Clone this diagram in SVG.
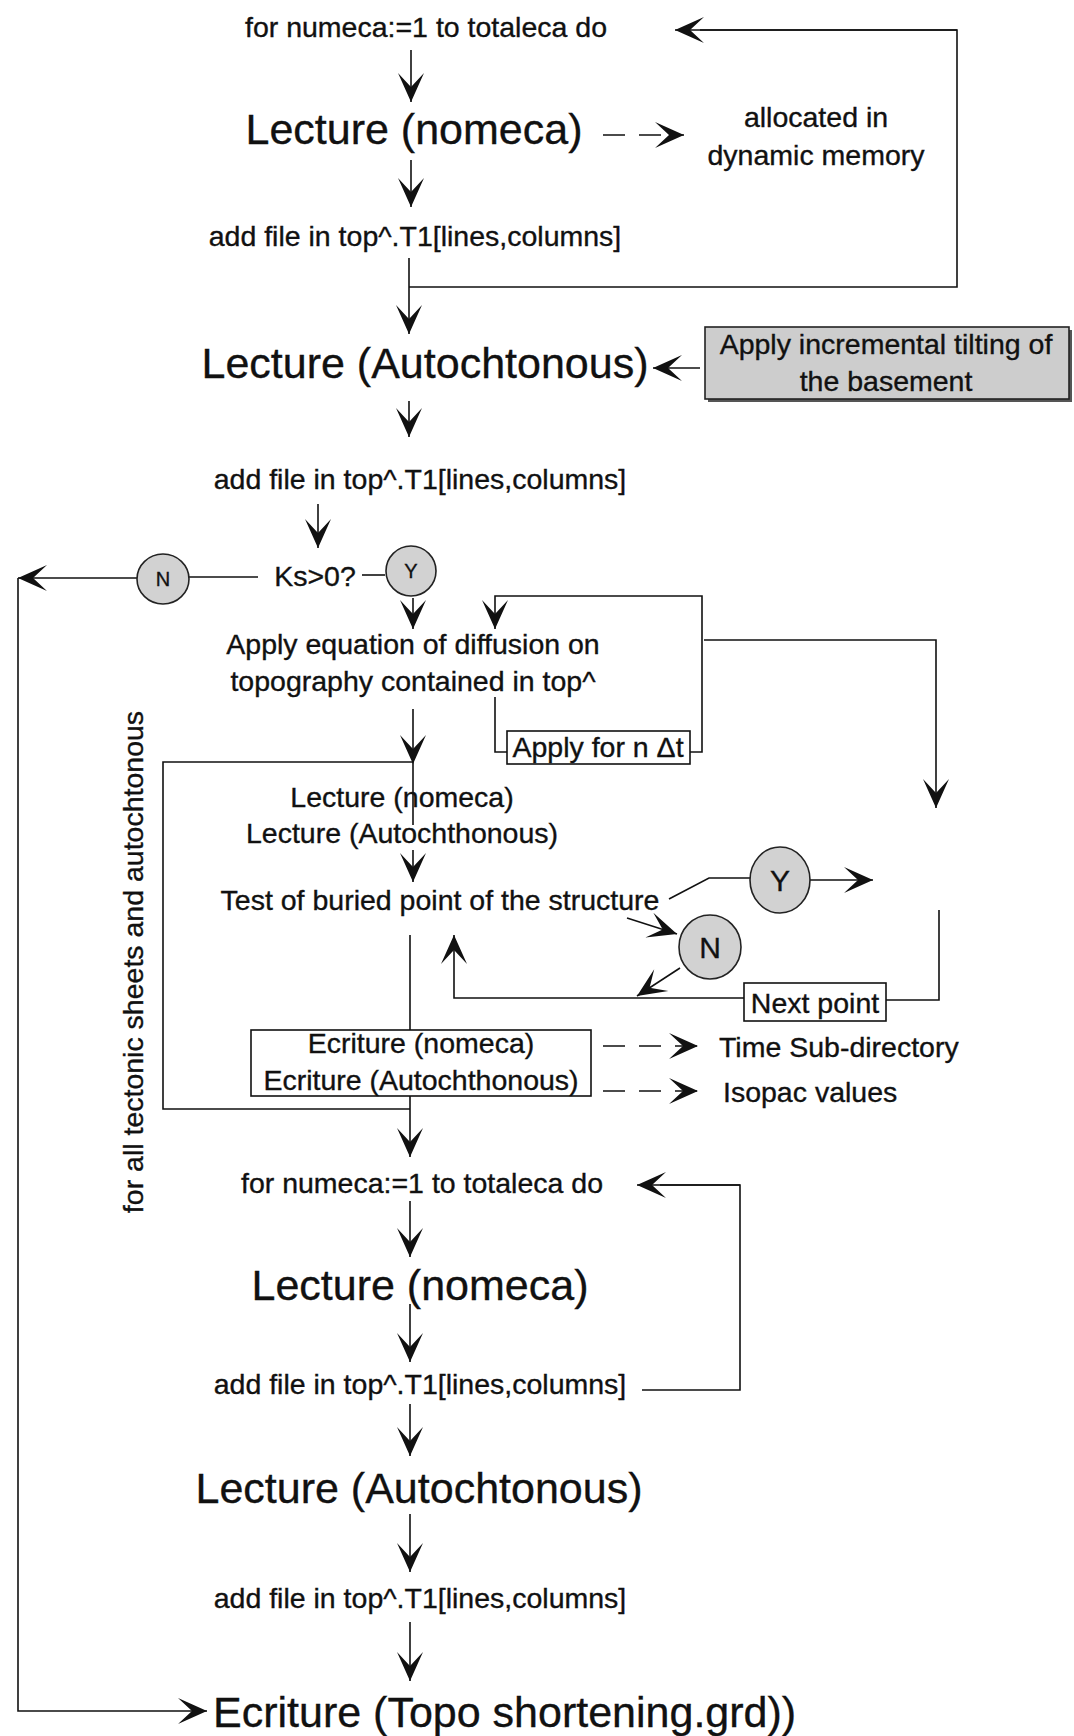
<svg xmlns="http://www.w3.org/2000/svg" width="1074" height="1736" viewBox="0 0 1074 1736">
  <style>
    text { font-family: "Liberation Sans", Arial, sans-serif; fill: #111; stroke: #111; stroke-width: 0.35; }
    .s { font-size: 28.5px; }
    .b { font-size: 43px; }
    .c { text-anchor: middle; }
    .ln { fill: none; stroke: #111; stroke-width: 1.6; }
    .ar { fill: none; stroke: #111; stroke-width: 1.6; marker-end: url(#ah); }
    .da { fill: none; stroke: #111; stroke-width: 1.6; stroke-dasharray: 22 14; marker-end: url(#ah); }
    .bub { fill: #d2d2d2; stroke: #222; stroke-width: 1.6; }
    .box { fill: #fff; stroke: #111; stroke-width: 1.6; }
  </style>
  <defs>
    <!-- chevron arrowhead, tip at the path end -->
    <marker id="ah" viewBox="-31 -15 33 30" refX="0" refY="0" markerWidth="33" markerHeight="30" markerUnits="userSpaceOnUse" orient="auto">
      <path d="M0,0 L-29,-13 L-15,0 L-29,13 Z" fill="#111"/>
    </marker>
  </defs>

  <rect width="1074" height="1736" fill="#fff"/>

  <!-- connectors -->
  <g id="connectors">
    <path class="ar" d="M411,50 V102"/>
    <path class="da" d="M603,135 H684"/>
    <path class="ar" d="M411,160 V207"/>
    <path class="ln" d="M409,287 H957 V30 H700"/>
    <path class="ar" d="M957,30 H675"/>
    <path class="ar" d="M409,258 V334"/>
    <path class="ar" d="M700,368 H653"/>
    <path class="ar" d="M409,401 V437"/>
    <path class="ar" d="M318,504 V548"/>
    <!-- Ks>0? branches -->
    <path class="ln" d="M189,577 H258"/>
    <path class="ln" d="M362,575 H385"/>
    <path class="ar" d="M137,578 H18"/>
    <path class="ar" d="M18,578 V1711 H207"/>
    <path class="ar" d="M413,598 V629"/>
    <!-- n dt loop -->
    <path class="ln" d="M495,697 V752 H507"/>
    <path class="ar" d="M690,752 H702 V596 H495 V629"/>
    <path class="ar" d="M704,640 H936 V808"/>
    <path class="ar" d="M413,709 V764"/>
    <!-- inner loop frame -->
    <path class="ln" d="M413,762 H163 V1109 H410"/>
    <path class="ln" d="M413,764 V825"/>
    <path class="ar" d="M413,850 V882"/>
    <!-- buried point test -->
    <path class="ln" d="M669,899 L709,878 H753"/>
    <path class="ar" d="M806,880 H873"/>
    <path class="ar" d="M627,918 L677,934"/>
    <path class="ar" d="M680,968 L637,996"/>
    <path class="ar" d="M744,998 H454 V935"/>
    <path class="ln" d="M886,1000 H939 V910"/>
    <path class="ln" d="M410,935 V1030"/>
    <path class="da" d="M603,1046 H698"/>
    <path class="da" d="M603,1091 H698"/>
    <path class="ar" d="M410,1096 V1157"/>
    <!-- second loop -->
    <path class="ln" d="M642,1390 H740 V1185 H660"/>
    <path class="ar" d="M740,1185 H637"/>
    <path class="ar" d="M410,1201 V1257"/>
    <path class="ar" d="M410,1304 V1362"/>
    <path class="ar" d="M410,1404 V1456"/>
    <path class="ar" d="M410,1514 V1572"/>
    <path class="ar" d="M410,1622 V1681"/>
  </g>

  <g id="n-for1"><text class="s c" x="426" y="37">for numeca:=1 to totaleca do</text></g>
  <g id="n-lect-nomeca1"><text class="b c" x="414" y="144">Lecture (nomeca)</text></g>
  <g id="n-alloc">
    <text class="s c" x="816" y="127">allocated in</text>
    <text class="s c" x="816" y="165">dynamic memory</text>
  </g>
  <g id="n-add1"><text class="s c" x="415" y="246">add file in top^.T1[lines,columns]</text></g>
  <g id="n-lect-auto1"><text class="b c" x="425" y="378">Lecture (Autochtonous)</text></g>
  <g id="n-tilt">
    <rect x="708" y="330" width="364" height="72" fill="#555"/>
    <rect x="705" y="327" width="364" height="72" fill="#cdcdcd" stroke="#222" stroke-width="1.6"/>
    <text class="s c" x="886" y="354">Apply incremental tilting of</text>
    <text class="s c" x="886" y="391">the basement</text>
  </g>
  <g id="n-add2"><text class="s c" x="420" y="489">add file in top^.T1[lines,columns]</text></g>
  <g id="n-ks"><text class="s c" x="315" y="586">Ks&gt;0?</text></g>
  <g id="n-ks-no">
    <ellipse class="bub" cx="163" cy="579" rx="26" ry="25"/>
    <text class="c" x="163" y="586" font-size="20">N</text>
  </g>
  <g id="n-ks-yes">
    <ellipse class="bub" cx="411" cy="571" rx="25" ry="25"/>
    <text class="c" x="411" y="578" font-size="20">Y</text>
  </g>
  <g id="n-diffusion">
    <text class="s c" x="413" y="654">Apply equation of diffusion on</text>
    <text class="s c" x="413" y="691">topography contained in top^</text>
  </g>
  <g id="n-ndt">
    <rect class="box" x="507" y="731" width="183" height="33"/>
    <text class="s c" x="598" y="757">Apply for n Δt</text>
  </g>
  <g id="n-lect-pair">
    <text class="s c" x="402" y="807">Lecture (nomeca)</text>
    <text class="s c" x="402" y="843">Lecture (Autochthonous)</text>
  </g>
  <g id="n-test"><text class="s c" x="440" y="910">Test of buried point of the structure</text></g>
  <g id="n-test-yes">
    <ellipse class="bub" cx="780" cy="880" rx="30" ry="33"/>
    <text class="c" x="780" y="891" font-size="30">Y</text>
  </g>
  <g id="n-test-no">
    <ellipse class="bub" cx="710" cy="947" rx="31" ry="32"/>
    <text class="c" x="710" y="958" font-size="30">N</text>
  </g>
  <g id="n-next">
    <rect class="box" x="744" y="983" width="142" height="38"/>
    <text class="s c" x="815" y="1013">Next point</text>
  </g>
  <g id="n-ecriture-pair">
    <rect class="box" x="251" y="1030" width="340" height="66"/>
    <text class="s c" x="421" y="1053">Ecriture (nomeca)</text>
    <text class="s c" x="421" y="1090">Ecriture (Autochthonous)</text>
  </g>
  <g id="n-time"><text class="s" x="719" y="1057">Time Sub-directory</text></g>
  <g id="n-isopac"><text class="s" x="723" y="1102">Isopac values</text></g>
  <g id="n-for2"><text class="s c" x="422" y="1193">for numeca:=1 to totaleca do</text></g>
  <g id="n-lect-nomeca2"><text class="b c" x="420" y="1300">Lecture (nomeca)</text></g>
  <g id="n-add3"><text class="s c" x="420" y="1394">add file in top^.T1[lines,columns]</text></g>
  <g id="n-lect-auto2"><text class="b c" x="419" y="1503">Lecture (Autochtonous)</text></g>
  <g id="n-add4"><text class="s c" x="420" y="1608">add file in top^.T1[lines,columns]</text></g>
  <g id="n-ecriture-topo"><text class="b" x="213" y="1727">Ecriture (Topo shortening.grd))</text></g>
  <g id="n-sheets"><text class="s c" transform="translate(143,962) rotate(-90)">for all tectonic sheets and autochtonous</text></g>
</svg>
